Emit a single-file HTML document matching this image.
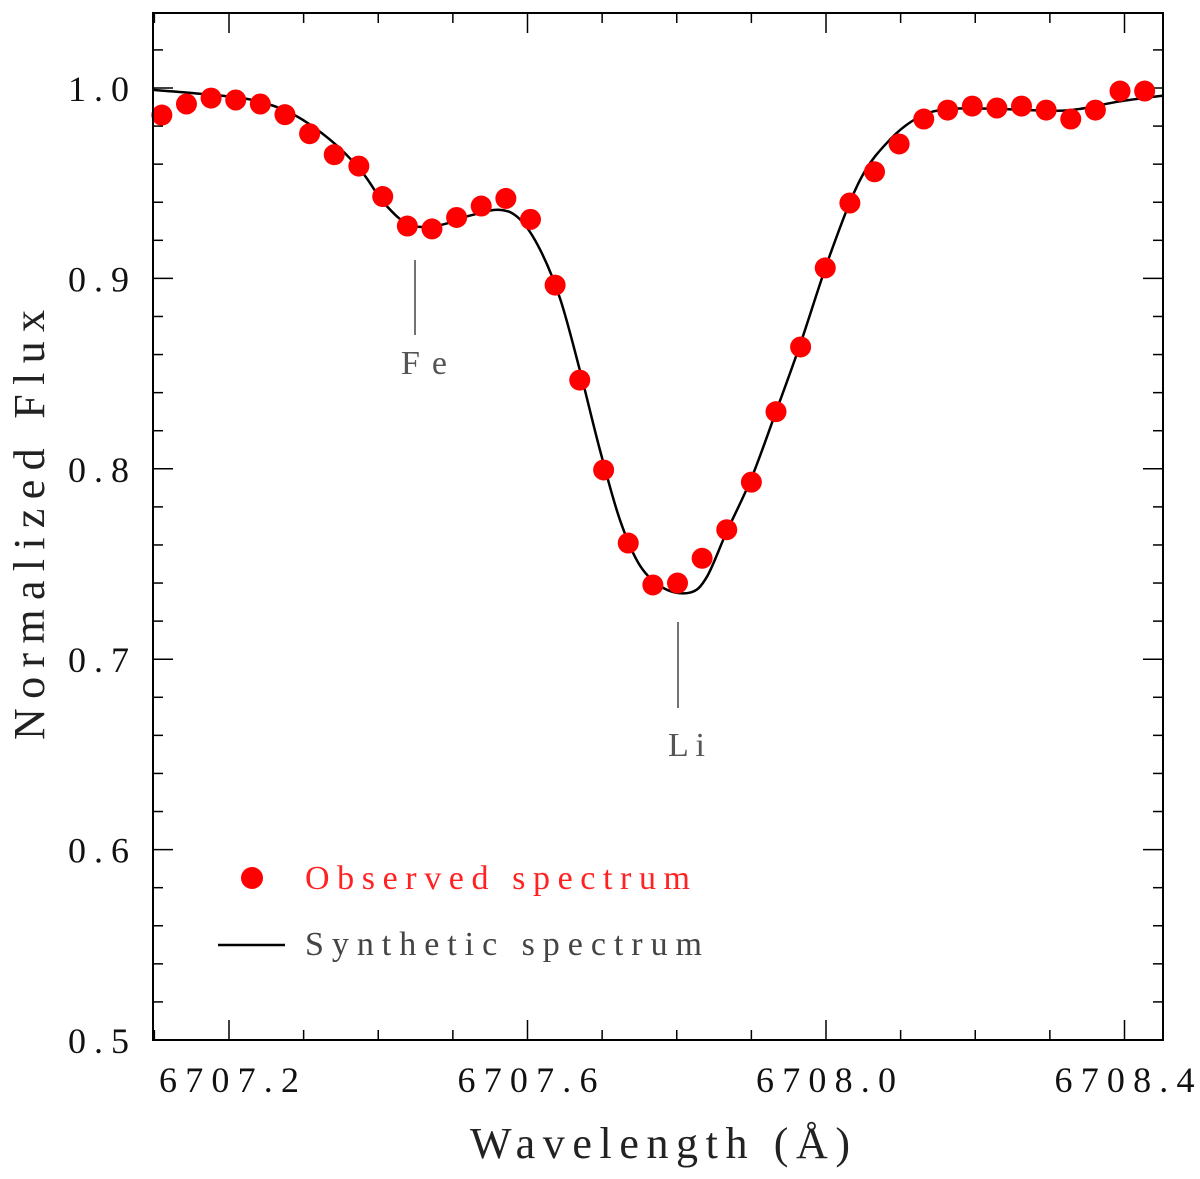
<!DOCTYPE html>
<html><head><meta charset="utf-8"><style>
html,body{margin:0;padding:0;background:#fff;}
svg text{font-family:"Liberation Serif",serif;}
</style></head><body>
<svg id="chart" width="1200" height="1174" xmlns="http://www.w3.org/2000/svg">
<g id="ticks"></g>
<g id="curve"></g>
<g id="dots"></g>
<rect x="153" y="13" width="1010" height="1027" fill="none" stroke="#000" stroke-width="2"/>
<g id="xlabels" font-size="36" fill="#111"></g>
<g id="ylabels" font-size="36" fill="#111"></g>
<text x="470" y="1158" font-size="44" textLength="380" lengthAdjust="spacing" fill="#222">Wavelength (Å)</text>
<text transform="translate(44,740) rotate(-90)" font-size="44" textLength="430" lengthAdjust="spacing" fill="#222">Normalized Flux</text>
<line x1="415" y1="260" x2="415" y2="335" stroke="#444" stroke-width="1.5"/>
<text x="401" y="374" font-size="34" textLength="46" lengthAdjust="spacing" fill="#555">Fe</text>
<line x1="678" y1="622" x2="678" y2="708" stroke="#444" stroke-width="1.5"/>
<text x="668" y="756" font-size="34" textLength="37" lengthAdjust="spacing" fill="#555">Li</text>
<g>
<circle cx="252" cy="878" r="11" fill="#f00"/>
<text x="305" y="889" font-size="34" textLength="385" lengthAdjust="spacing" fill="#f22">Observed spectrum</text>
<line x1="218" y1="945" x2="285" y2="945" stroke="#000" stroke-width="2.5"/>
<text x="305" y="955" font-size="34" textLength="397" lengthAdjust="spacing" fill="#444">Synthetic spectrum</text>
</g>
</svg>
<script>
const obsWave=[6707.110,6707.143,6707.176,6707.209,6707.242,6707.275,6707.308,6707.341,6707.374,6707.406,6707.439,6707.472,6707.505,6707.538,6707.571,6707.604,6707.637,6707.670,6707.702,6707.735,6707.768,6707.801,6707.834,6707.867,6707.900,6707.933,6707.966,6707.999,6708.032,6708.065,6708.098,6708.131,6708.163,6708.196,6708.229,6708.262,6708.295,6708.328,6708.361,6708.394,6708.427];
const obsFlux=[0.9858,0.9916,0.9947,0.9937,0.9916,0.986,0.976,0.965,0.959,0.943,0.9275,0.926,0.932,0.938,0.942,0.931,0.8965,0.8466,0.7994,0.761,0.739,0.740,0.753,0.768,0.793,0.830,0.864,0.9055,0.9396,0.956,0.9706,0.9837,0.9884,0.9905,0.9895,0.9905,0.9884,0.9837,0.9884,0.9984,0.9984];
const synWave=[6707.098,6707.161,6707.228,6707.282,6707.335,6707.376,6707.409,6707.443,6707.483,6707.523,6707.563,6707.590,6707.617,6707.644,6707.670,6707.697,6707.724,6707.751,6707.784,6707.818,6707.840,6707.867,6707.900,6707.933,6707.966,6708.005,6708.046,6708.086,6708.126,6708.166,6708.233,6708.300,6708.340,6708.394,6708.452];
const synFlux=[0.999,0.997,0.994,0.987,0.973,0.957,0.939,0.928,0.928,0.933,0.936,0.931,0.915,0.889,0.852,0.810,0.773,0.749,0.737,0.735,0.743,0.767,0.795,0.830,0.866,0.912,0.952,0.973,0.985,0.989,0.989,0.988,0.989,0.993,0.996];
const xTickLabels=["6707.2","6707.6","6708.0","6708.4"];
const yTickLabels=["0.5","0.6","0.7","0.8","0.9","1.0"];
const NS="http://www.w3.org/2000/svg";
function X(w){return 229+(w-6707.2)*746.25;}
function Y(f){return 88+(1-f)*1904;}
function mk(tag,attrs,parent){const e=document.createElementNS(NS,tag);for(const k in attrs)e.setAttribute(k,attrs[k]);parent.appendChild(e);return e;}
const tg=document.getElementById('ticks');
for(let i=0;i<=14;i++){const w=6707.1+i*0.1;const x=X(w);if(x<153||x>1163)continue;const major=Math.abs(((w-6707.2)/0.4)-Math.round((w-6707.2)/0.4))<1e-6;const L=major?20:10;
const t1=mk('line',{x1:x,y1:1040,x2:x,y2:1040-L,stroke:'#000','stroke-width':1.5},tg);


const t2=mk('line',{x1:x,y1:13,x2:x,y2:13+L,stroke:'#000','stroke-width':1.5},tg);

}
for(let i=0;i<=27;i++){const f=0.5+i*0.02;const y=Y(f);if(y<13)continue;const major=i%5===0;const L=major?20:10;
const t1=mk('line',{x1:153,y1:y,x2:153+L,y2:y,stroke:'#000','stroke-width':1.5},tg);


const t2=mk('line',{x1:1163,y1:y,x2:1163-L,y2:y,stroke:'#000','stroke-width':1.5},tg);

}
const xl=document.getElementById('xlabels');
xTickLabels.forEach(s=>{const t=mk('text',{x:X(parseFloat(s))-70,y:1092,textLength:140,lengthAdjust:'spacing'},xl);t.textContent=s;

});
const yl=document.getElementById('ylabels');
yTickLabels.forEach(s=>{const t=mk('text',{x:68,y:Y(parseFloat(s))+13,textLength:61,lengthAdjust:'spacing'},yl);t.textContent=s;

});
const pts=synWave.map((w,i)=>[X(w),Y(synFlux[i])]);
let d='M'+pts[0][0]+','+pts[0][1];
for(let i=0;i<pts.length-1;i++){const p0=pts[Math.max(0,i-1)],p1=pts[i],p2=pts[i+1],p3=pts[Math.min(pts.length-1,i+2)];
d+=' C'+(p1[0]+(p2[0]-p0[0])/6)+','+(p1[1]+(p2[1]-p0[1])/6)+' '+(p2[0]-(p3[0]-p1[0])/6)+','+(p2[1]-(p3[1]-p1[1])/6)+' '+p2[0]+','+p2[1];}
const path=mk('path',{d:d,fill:'none',stroke:'#000','stroke-width':2.5},document.getElementById('curve'));


const dg=document.getElementById('dots');
obsWave.forEach((w,i)=>{const c=mk('circle',{cx:X(w),cy:Y(obsFlux[i]),r:10.5,fill:'#f00'},dg);

});
</script>
</body></html>
